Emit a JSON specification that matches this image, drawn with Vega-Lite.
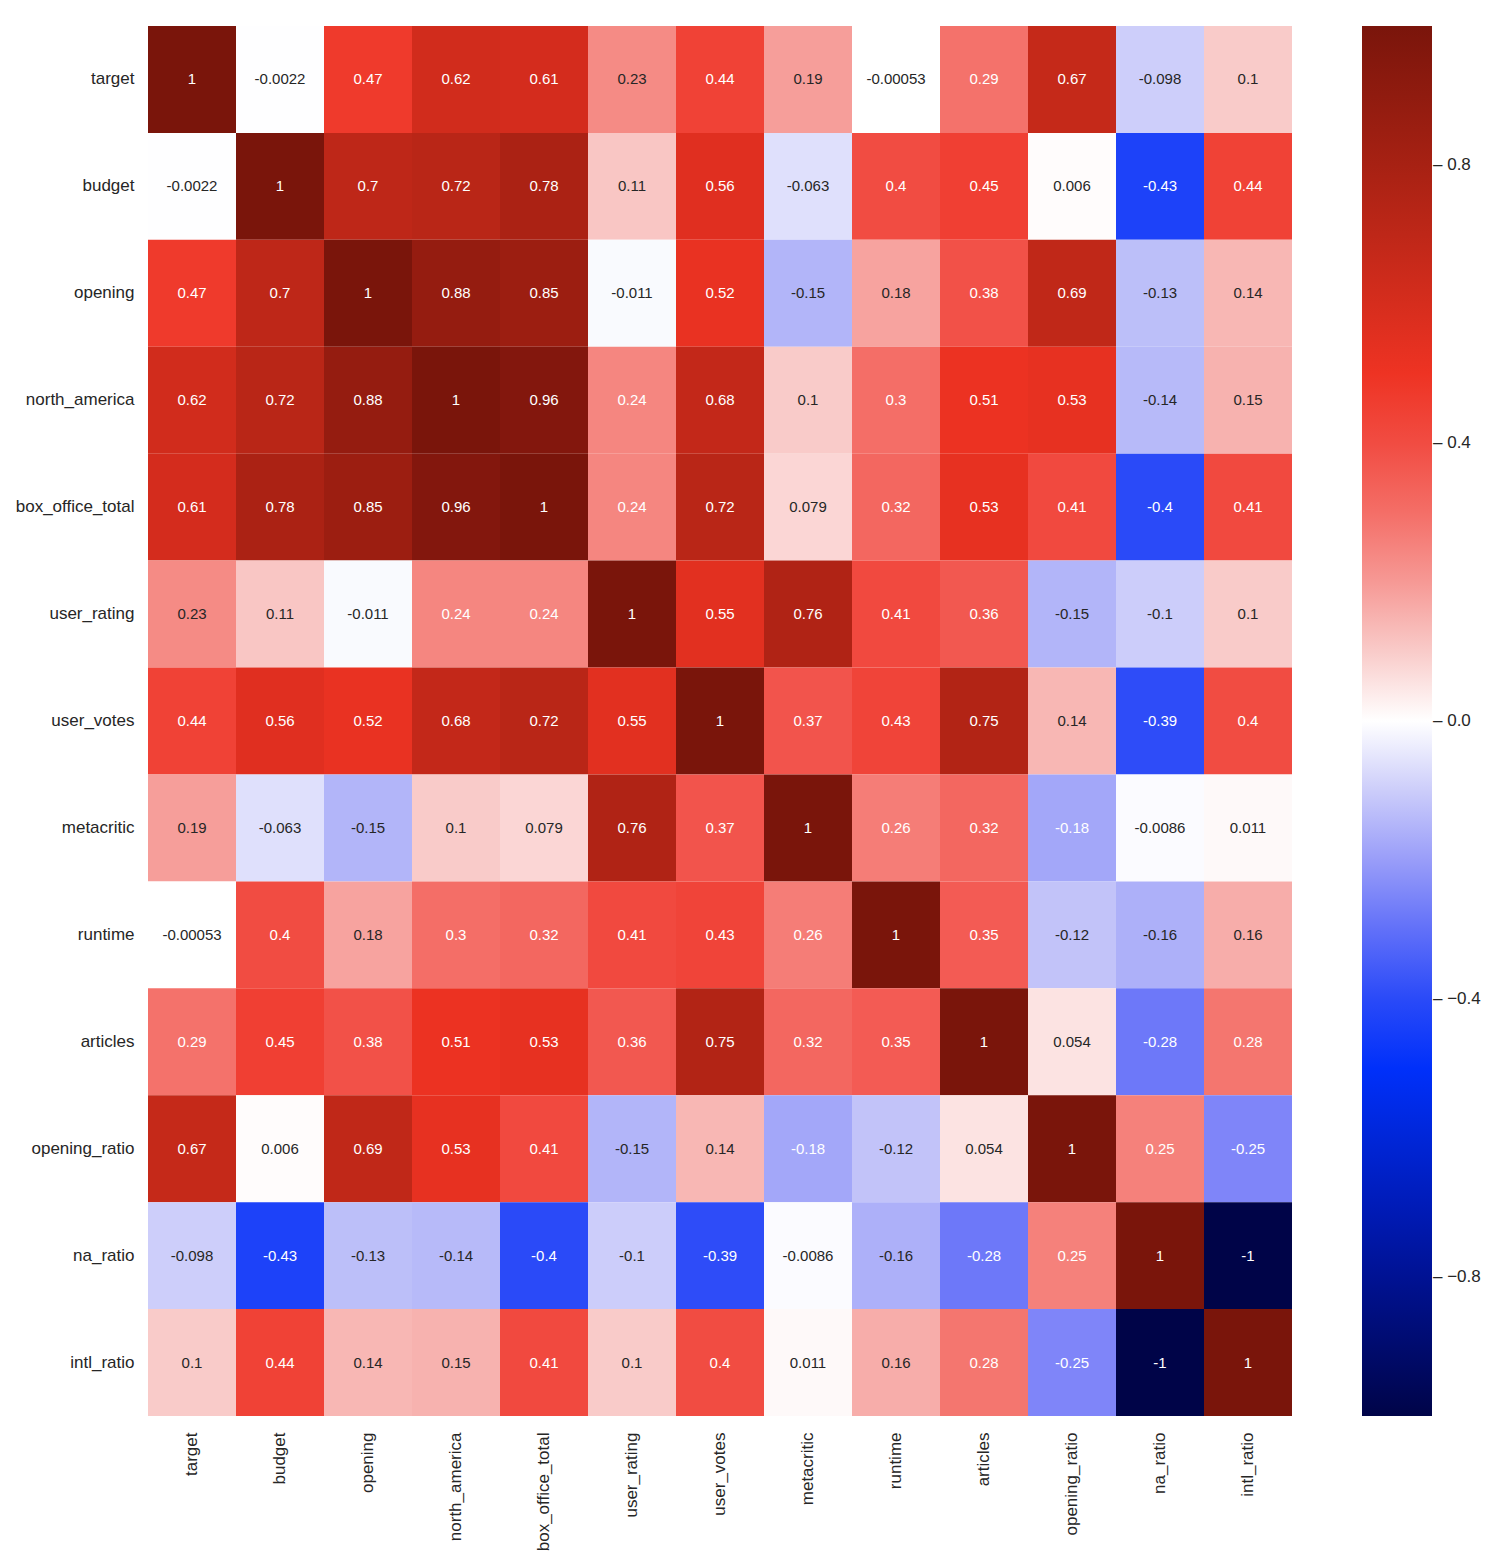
{
  "$schema": "https://vega.github.io/schema/vega-lite/v6.json",
  "width": 1144,
  "height": 1390,
  "autosize": {"type": "none"},
  "padding": {"left": 148, "top": 26, "right": 210, "bottom": 152},
  "background": "white",
  "config": {
    "view": {"stroke": null},
    "font": "Liberation Sans",
    "locale": {"number": {"decimal": ".", "thousands": ",", "grouping": [3], "currency": ["$", ""], "minus": "-"}}
  },
  "data": {
    "values": [
      {"row": "target", "target": 1, "budget": -0.0022, "opening": 0.47, "north_america": 0.62, "box_office_total": 0.61, "user_rating": 0.23, "user_votes": 0.44, "metacritic": 0.19, "runtime": -0.00053, "articles": 0.29, "opening_ratio": 0.67, "na_ratio": -0.098, "intl_ratio": 0.1},
      {"row": "budget", "target": -0.0022, "budget": 1, "opening": 0.7, "north_america": 0.72, "box_office_total": 0.78, "user_rating": 0.11, "user_votes": 0.56, "metacritic": -0.063, "runtime": 0.4, "articles": 0.45, "opening_ratio": 0.006, "na_ratio": -0.43, "intl_ratio": 0.44},
      {"row": "opening", "target": 0.47, "budget": 0.7, "opening": 1, "north_america": 0.88, "box_office_total": 0.85, "user_rating": -0.011, "user_votes": 0.52, "metacritic": -0.15, "runtime": 0.18, "articles": 0.38, "opening_ratio": 0.69, "na_ratio": -0.13, "intl_ratio": 0.14},
      {"row": "north_america", "target": 0.62, "budget": 0.72, "opening": 0.88, "north_america": 1, "box_office_total": 0.96, "user_rating": 0.24, "user_votes": 0.68, "metacritic": 0.1, "runtime": 0.3, "articles": 0.51, "opening_ratio": 0.53, "na_ratio": -0.14, "intl_ratio": 0.15},
      {"row": "box_office_total", "target": 0.61, "budget": 0.78, "opening": 0.85, "north_america": 0.96, "box_office_total": 1, "user_rating": 0.24, "user_votes": 0.72, "metacritic": 0.079, "runtime": 0.32, "articles": 0.53, "opening_ratio": 0.41, "na_ratio": -0.4, "intl_ratio": 0.41},
      {"row": "user_rating", "target": 0.23, "budget": 0.11, "opening": -0.011, "north_america": 0.24, "box_office_total": 0.24, "user_rating": 1, "user_votes": 0.55, "metacritic": 0.76, "runtime": 0.41, "articles": 0.36, "opening_ratio": -0.15, "na_ratio": -0.1, "intl_ratio": 0.1},
      {"row": "user_votes", "target": 0.44, "budget": 0.56, "opening": 0.52, "north_america": 0.68, "box_office_total": 0.72, "user_rating": 0.55, "user_votes": 1, "metacritic": 0.37, "runtime": 0.43, "articles": 0.75, "opening_ratio": 0.14, "na_ratio": -0.39, "intl_ratio": 0.4},
      {"row": "metacritic", "target": 0.19, "budget": -0.063, "opening": -0.15, "north_america": 0.1, "box_office_total": 0.079, "user_rating": 0.76, "user_votes": 0.37, "metacritic": 1, "runtime": 0.26, "articles": 0.32, "opening_ratio": -0.18, "na_ratio": -0.0086, "intl_ratio": 0.011},
      {"row": "runtime", "target": -0.00053, "budget": 0.4, "opening": 0.18, "north_america": 0.3, "box_office_total": 0.32, "user_rating": 0.41, "user_votes": 0.43, "metacritic": 0.26, "runtime": 1, "articles": 0.35, "opening_ratio": -0.12, "na_ratio": -0.16, "intl_ratio": 0.16},
      {"row": "articles", "target": 0.29, "budget": 0.45, "opening": 0.38, "north_america": 0.51, "box_office_total": 0.53, "user_rating": 0.36, "user_votes": 0.75, "metacritic": 0.32, "runtime": 0.35, "articles": 1, "opening_ratio": 0.054, "na_ratio": -0.28, "intl_ratio": 0.28},
      {"row": "opening_ratio", "target": 0.67, "budget": 0.006, "opening": 0.69, "north_america": 0.53, "box_office_total": 0.41, "user_rating": -0.15, "user_votes": 0.14, "metacritic": -0.18, "runtime": -0.12, "articles": 0.054, "opening_ratio": 1, "na_ratio": 0.25, "intl_ratio": -0.25},
      {"row": "na_ratio", "target": -0.098, "budget": -0.43, "opening": -0.13, "north_america": -0.14, "box_office_total": -0.4, "user_rating": -0.1, "user_votes": -0.39, "metacritic": -0.0086, "runtime": -0.16, "articles": -0.28, "opening_ratio": 0.25, "na_ratio": 1, "intl_ratio": -1},
      {"row": "intl_ratio", "target": 0.1, "budget": 0.44, "opening": 0.14, "north_america": 0.15, "box_office_total": 0.41, "user_rating": 0.1, "user_votes": 0.4, "metacritic": 0.011, "runtime": 0.16, "articles": 0.28, "opening_ratio": -0.25, "na_ratio": -1, "intl_ratio": 1}
    ]
  },
  "transform": [
    {"fold": ["target", "budget", "opening", "north_america", "box_office_total", "user_rating", "user_votes", "metacritic", "runtime", "articles", "opening_ratio", "na_ratio", "intl_ratio"], "as": ["col", "value"]}
  ],
  "encoding": {
    "x": {
      "field": "col", "type": "nominal",
      "sort": ["target", "budget", "opening", "north_america", "box_office_total", "user_rating", "user_votes", "metacritic", "runtime", "articles", "opening_ratio", "na_ratio", "intl_ratio"],
      "scale": {"paddingInner": 0, "paddingOuter": 0},
      "axis": {"title": null, "domain": false, "ticks": false, "labelAngle": 270, "labelAlign": "right", "labelBaseline": "middle", "labelPadding": 16, "labelFontSize": 17, "labelColor": "#262626", "labelLimit": 300}
    },
    "y": {
      "field": "row", "type": "nominal",
      "sort": ["target", "budget", "opening", "north_america", "box_office_total", "user_rating", "user_votes", "metacritic", "runtime", "articles", "opening_ratio", "na_ratio", "intl_ratio"],
      "scale": {"paddingInner": 0, "paddingOuter": 0},
      "axis": {"title": null, "domain": false, "ticks": false, "labelPadding": 14, "labelFontSize": 17, "labelColor": "#262626", "labelLimit": 300}
    }
  },
  "layer": [
    {
      "mark": {"type": "rect"},
      "encoding": {
        "color": {
          "field": "value", "type": "quantitative",
          "scale": {
            "type": "linear",
            "domain": [-1, -0.75, -0.5, -0.375, -0.25, -0.125, 0, 0.125, 0.25, 0.375, 0.5, 0.75, 1],
            "range": ["#000448", "#0016a6", "#0030fa", "#3450f8", "#7f85f9", "#bfc1f9", "#ffffff", "#f8bebc", "#f5817b", "#f2524a", "#ee3323", "#b22415", "#7a150b"],
            "interpolate": "rgb"
          },
          "legend": {
            "title": null, "orient": "right", "offset": 70, "direction": "vertical",
            "gradientLength": 1390, "gradientThickness": 70, "gradientStrokeWidth": 0,
            "values": [-0.8, -0.4, 0, 0.4, 0.8],
            "format": ".1f",
            "labelExpr": "'– ' + replace(datum.label, '-', '−')",
            "labelFontSize": 17, "labelColor": "#262626", "labelOffset": 1, "labelOverlap": false
          }
        }
      }
    },
    {
      "mark": {"type": "text", "fontSize": 15, "align": "center", "baseline": "middle"},
      "encoding": {
        "text": {"field": "value", "type": "quantitative", "format": ".2~g"},
        "color": {"condition": {"test": "datum.value > 0.235 || datum.value < -0.17", "value": "#ffffff"}, "value": "#262626"}
      }
    }
  ]
}
